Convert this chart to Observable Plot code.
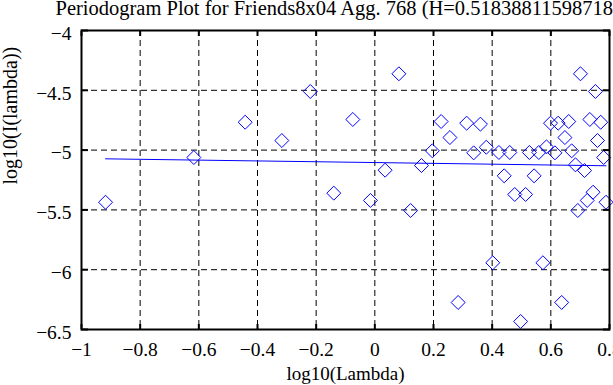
<!DOCTYPE html>
<html>
<head>
<meta charset="utf-8">
<script src="https://cdn.jsdelivr.net/npm/d3@7"></script>
<script src="https://cdn.jsdelivr.net/npm/@observablehq/plot@0.6"></script>
<style>
  html, body { margin: 0; padding: 0; background: white; overflow: hidden; }
  #chart { width: 613px; height: 385px; }
</style>
</head>
<body>
<div id="chart"></div>
<script>
const titleText = "Periodogram Plot for Friends8x04 Agg. 768 (H=0.518388115987183)";
const xLabel = "log10(Lambda)";
const yLabel = "log10(I(lambda))";

const xTicks = [-1, -0.8, -0.6, -0.4, -0.2, 0, 0.2, 0.4, 0.6, 0.8];
const yTicks = [-6.5, -6, -5.5, -5, -4.5, -4];

const logLambda = [
  -0.918, -0.617, -0.442, -0.317, -0.220, -0.140, -0.075, -0.015, 0.035, 0.082,
  0.122, 0.159, 0.196, 0.226, 0.256, 0.284, 0.313, 0.337, 0.360, 0.380,
  0.402, 0.423, 0.441, 0.460, 0.477, 0.497, 0.514, 0.527, 0.543, 0.559,
  0.573, 0.585, 0.599, 0.614, 0.625, 0.637, 0.648, 0.661, 0.671, 0.684,
  0.692, 0.701, 0.715, 0.724, 0.733, 0.744, 0.752, 0.759, 0.770, 0.780, 0.788
];
const logI = [
  -5.436, -5.062, -4.767, -4.920, -4.510, -5.360, -4.744, -5.421, -5.168, -4.362,
  -5.505, -5.129, -5.006, -4.761, -4.895, -6.274, -4.775, -5.023, -4.783, -4.976,
  -5.942, -5.020, -5.215, -5.020, -5.371, -6.433, -5.371, -5.020, -5.215, -5.020,
  -5.942, -4.973, -4.775, -5.023, -4.775, -6.274, -4.895, -4.761, -5.006, -5.123,
  -5.505, -4.362, -5.171, -5.421, -4.744, -5.352, -4.510, -4.920, -4.767, -5.062, -5.436
];

const fitX = [-0.918, 0.788];
const fitY = [-5.073, -5.131];

const points = logLambda.map((x, i) => ({x, y: logI[i]}));
const fit = fitX.map((x, i) => ({x, y: fitY[i]}));

const fmt = d3.format("");
const font = "'Liberation Serif', 'DejaVu Serif', serif";

const chart = Plot.plot({
  width: 613,
  height: 385,
  marginLeft: 81,
  marginRight: 4,
  marginTop: 30,
  marginBottom: 56,
  style: {fontFamily: font, fontSize: "19px", background: "white", color: "black", overflow: "hidden"},
  x: {domain: [-1, 0.8], ticks: xTicks},
  y: {domain: [-6.5, -4], ticks: yTicks},
  marks: [
    Plot.gridX(xTicks, {stroke: "black", strokeOpacity: 1, strokeDasharray: "6,4", strokeWidth: 1}),
    Plot.gridY(yTicks, {stroke: "black", strokeOpacity: 1, strokeDasharray: "6,4", strokeWidth: 1}),
    Plot.line(fit, {x: "x", y: "y", stroke: "#0000ff", strokeWidth: 1}),
    Plot.dot(points, {x: "x", y: "y", symbol: "diamond2", r: 6.3, stroke: "#0000ff", strokeWidth: 1, fill: "none"}),
    Plot.axisX(xTicks, {anchor: "bottom", tickSize: 0, tickPadding: 13, tickFormat: fmt, label: null, fontSize: 19.5}),
    Plot.axisY(yTicks, {anchor: "left", tickSize: 0, tickPadding: 10, tickFormat: fmt, label: null, fontSize: 19.5, dy: 3}),
    Plot.axisX(xTicks, {anchor: "bottom", tickSize: -5, tickFormat: () => "", label: null, strokeWidth: 2}),
    Plot.axisX(xTicks, {anchor: "top", tickSize: -5, tickFormat: () => "", label: null, strokeWidth: 2}),
    Plot.axisY(yTicks, {anchor: "left", tickSize: -7, tickFormat: () => "", label: null, strokeWidth: 2}),
    Plot.axisY(yTicks, {anchor: "right", tickSize: -7, tickFormat: () => "", label: null, strokeWidth: 2}),
    Plot.frame({stroke: "black", strokeWidth: 2}),
    Plot.text([titleText], {frameAnchor: "top-left", dx: -26, dy: -16, textAnchor: "start", lineAnchor: "bottom", fontSize: 20.5, text: d => d}),
    Plot.text([xLabel], {frameAnchor: "bottom", dy: 50, lineAnchor: "bottom", fontSize: 19, text: d => d}),
    Plot.text([yLabel], {frameAnchor: "left", dx: -65, dy: 4.5, rotate: -90, lineAnchor: "bottom", fontSize: 20, text: d => d})
  ]
});
document.getElementById("chart").appendChild(chart);
</script>
</body>
</html>
